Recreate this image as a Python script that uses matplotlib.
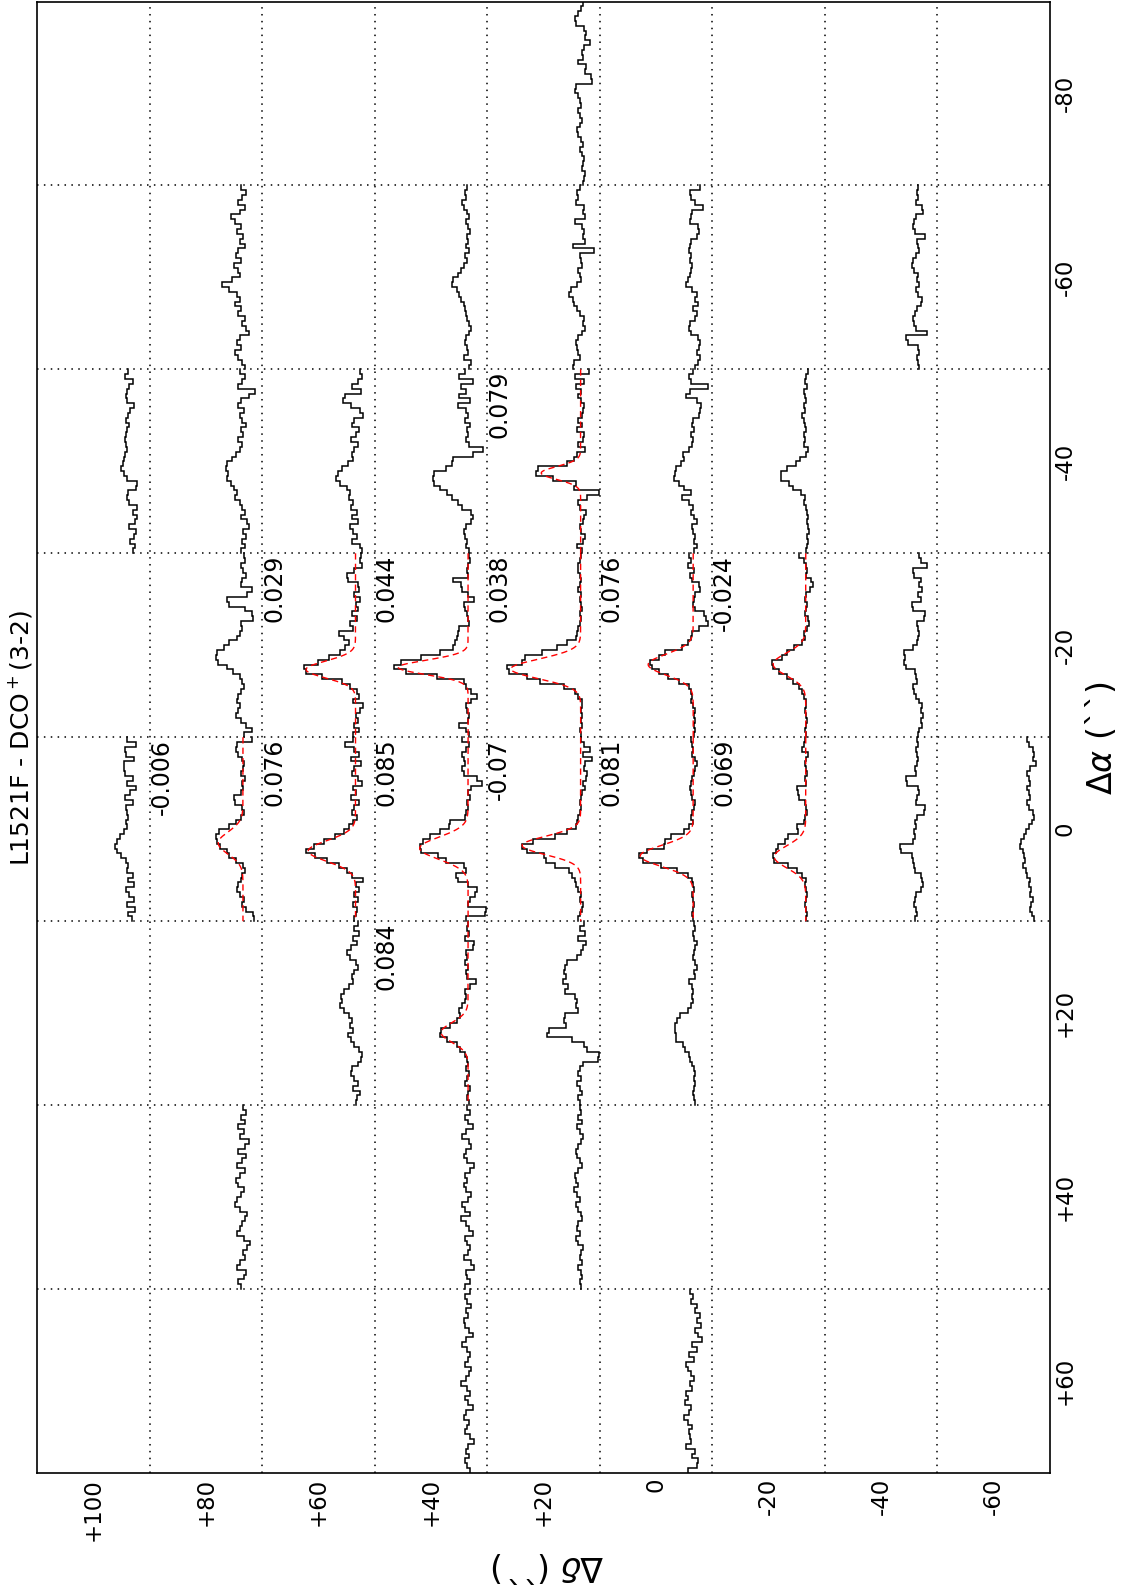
import numpy as np
import matplotlib
matplotlib.use("Agg")
import matplotlib.pyplot as plt

# ---------------- axes / grid description ----------------
dra_ticks = [-80, -60, -40, -20, 0, 20, 40, 60]
dra_ticklabels = ['-80', '-60', '-40', '-20', '0', '+20', '+40', '+60']
ddec_ticks = [100, 80, 60, 40, 20, 0, -20, -40, -60]
ddec_ticklabels = ['+100', '+80', '+60', '+40', '+20', '0', '-20', '-40', '-60']
grid_dra = [-70, -50, -30, -10, 10, 30, 50]
grid_ddec = [90, 70, 50, 30, 10, -10, -30, -50]

# velocity channels (km/s); each list below runs from highest to lowest velocity
v_hi, v_lo = 10.0, 4.0
n_chan = 38

# ---------------- spectra (Tmb in 0.01 K) ----------------
sp_p100_m40 = [2, 5, -2, 1, 3, 4, 3, -3, 0, 2, 4, 1, 3, 4, 5, 4, 3, 5, 6, 7, 8, 6, 3, -6, -5, 2, 3, 1, -6, -2, -6, -4, 1, -5, -3, 0, -4, -2]
sp_p100_0 = [3, -5, 5, 4, -3, 6, 6, 5, -2, 3, -5, 0, 5, -2, 4, 3, 2, 4, 3, 6, 9, 12, 14, 12, 8, 4, 2, 3, -2, 2, -3, 4, 1, -3, 3, -4, 2, -1]
sp_p80_m60 = [2, -3, 1, 4, -2, 3, 11, 7, 2, 5, 0, 3, -2, 4, 6, 2, 8, 4, 3, 10, 19, 12, 5, 3, 7, 2, 4, -2, 1, -3, -5, 3, 5, 2, 7, 4, 1, -2]
sp_p80_m40 = [3, -2, 1, 4, -11, -5, 2, 4, -1, 3, 1, -3, 2, 0, 4, 1, 3, 6, 10, 14, 15, 13, 14, 11, 8, 5, 7, 3, 1, -2, 2, -4, -5, 0, -3, 1, -2, 2]
sp_p80_m20 = [-1, -2, 2, 0, -3, 1, 2, -8, -4, 14, 12, -2, -8, -9, 2, 1, 3, 5, 12, 17, 23, 24, 22, 14, 9, 3, 1, -1, 2, 4, 5, 3, 4, 6, 2, -3, -8, -1]
sp_p80_0 = [-8, 5, 6, 4, 1, -1, 0, 2, -2, 1, 0, 2, 8, 7, 1, -1, 2, 6, 12, 21, 24, 23, 20, 14, 12, 6, 0, -2, 1, 2, 4, 5, 3, -1, 1, -3, -9, -10]
sp_p80_p40 = [0, -3, 2, -2, 4, -1, 3, -5, -2, 4, -3, 1, 5, -2, 3, 6, 4, -1, 2, 5, 7, 3, -4, -2, 1, 3, 5, -1, -6, -4, 0, -2, 3, 5, -3, -1, 4, 2]
sp_p60_m40 = [-4, -6, -2, 3, -5, 9, 11, 4, -4, -7, 1, 3, -3, 0, 4, -2, 1, 3, 2, 7, 12, 16, 17, 14, 8, 5, 6, 2, 4, -1, 3, -2, 5, 2, -1, 3, -4, -6]
sp_p60_m20 = [-5, -4, -6, 1, 8, 7, -2, -3, 1, -4, 0, -2, 3, -1, 5, 2, 15, 10, 6, 9, 14, 24, 33, 46, 44, 30, 12, 5, -1, -3, 2, -7, -4, 0, -2, 1, -3, 2]
sp_p60_0 = [2, 9, 1, -3, 4, -5, 1, 3, -2, -6, 2, 0, 4, -3, 1, 3, -1, 2, 6, 10, 18, 28, 37, 44, 36, 25, 15, 8, 3, -7, 0, -3, 1, -2, 2, -1, 0, 1]
sp_p60_p20 = [-2, 1, -3, 2, -1, 4, 8, 5, 0, -2, 1, 3, 2, 6, 10, 13, 12, 14, 10, 6, 3, 5, 2, 7, 4, 1, -3, -6, -5, -2, 3, 4, 1, -2, 2, -4, -1, 0]
sp_p40_m60 = [1, 3, 2, 5, 4, 1, -1, 2, 0, -2, 1, 0, 2, -1, 3, 1, 4, 6, 9, 13, 14, 10, 8, 6, 4, 3, 2, 1, -1, -3, -1, 2, 3, 1, 0, 4, -3, -1]
sp_p40_m40 = [3, 8, -4, 6, 2, 8, -2, 9, 2, 0, 3, -2, 1, 0, 2, -1, -13, -4, 13, 14, 20, 30, 31, 30, 25, 19, 14, 9, 5, -3, -4, -3, 2, 4, 3, 1, 2, -1]
sp_p40_m20 = [-1, -2, 0, 1, 0, 13, 6, 5, 0, -5, 4, 3, 1, 0, -1, 8, 9, 10, 12, 13, 25, 42, 60, 66, 55, 28, 4, 2, -3, -8, -3, 2, 1, -1, 0, 8, 2, -1]
sp_p40_0 = [5, -1, 2, 5, 4, 3, 5, 4, -8, -12, -3, 0, -2, 1, 0, 2, 3, 16, 17, 25, 34, 40, 43, 42, 27, 20, 4, 2, 11, 9, 0, -8, -6, -2, 0, -16, -15, 2]
sp_p40_p20 = [0, 1, -1, 3, -5, -4, 2, 1, 3, 0, 2, 1, -7, -2, 3, 2, 3, 5, 8, 7, 10, 16, 24, 25, 19, 10, 7, 3, 1, 0, 2, -1, 1, 3, -2, 0, 1, -1]
sp_p40_p40 = [1, -2, 3, 0, -4, 2, 5, -1, -3, 2, 4, 1, -5, -2, 3, 1, 4, 2, -3, 0, 5, 3, -2, 6, 2, -1, -4, 3, 1, -2, 0, 4, -3, -5, 2, 1, -2, 3]
sp_p40_p60 = [-2, 3, 1, -3, 2, 0, 4, 3, -1, -4, 2, 5, 1, -2, 0, 3, -3, -1, 2, 6, 1, -2, 3, 0, -4, 2, 4, -1, 1, 3, -2, -5, 0, 2, -1, 3, 1, -2]
sp_p20_m80 = [-2, 0, 2, 5, 4, -3, -5, -4, -8, -3, -1, -2, 2, -5, -4, -9, -10, 4, 5, 2, 1, 0, 2, 1, -1, 1, 3, 2, 0, -2, 1, -1, -3, -2, -1, -4, -3, -2]
sp_p20_m60 = [1, 3, 2, 4, -3, -2, -4, 5, -1, -3, -2, -4, 7, -12, 1, 0, -1, 2, 1, 0, 3, 9, 10, 7, 6, 3, 1, -3, -2, -4, -1, 2, 4, 3, 2, 1, 6, 7]
sp_p20_m40 = [-7, 5, -3, 4, 0, 2, 0, -3, -2, -1, 2, -1, 3, -3, -2, 2, -4, 3, 6, 12, 38, 40, 25, 4, 6, -16, -6, 2, 1, -5, -3, -2, 1, 0, -4, -2, 3, -1]
sp_p20_m20 = [0, 1, 2, 2, 1, 0, 1, 2, 0, 1, 0, -1, 1, 0, 1, 2, 3, 4, 12, 21, 34, 49, 52, 65, 64, 48, 36, 15, 5, 2, -1, -1, 0, -1, 0, -1, 1, 0]
sp_p20_0 = [0, -3, -8, -2, -10, -4, -3, -6, -5, -2, -4, -1, 0, 1, 0, 1, 2, 3, 4, 12, 23, 42, 52, 48, 33, 31, 23, 10, 8, 5, 4, 2, 0, 1, -2, -1, 1, 2]
sp_p20_p20 = [-3, 1, -4, 2, -5, -2, 0, 3, 12, 14, 15, 13, 16, 11, 14, 5, 3, 4, 2, 14, 15, 13, 28, 30, 8, -3, -6, -16, -15, -2, 1, 2, 0, 3, 1, -1, 2, 1]
sp_p20_p40 = [1, 0, 2, -1, 3, 1, -2, 0, 2, 4, 3, 1, -1, 2, 5, 4, 2, 6, 3, 1, 4, 2, 0, -1, 2, 3, 1, 4, 2, -2, 0, 1, -1, 2, 0, -1, 1, 0]
sp_0_m60 = [-6, 3, 2, -2, -9, 1, 2, 3, -4, -5, -3, 2, 3, 4, 2, 3, 1, 2, 3, 5, 6, 1, -3, -2, -4, 0, -3, -2, 3, 4, 2, -4, -6, -5, -3, -6, -4, -2]
sp_0_m40 = [0, 4, 2, -13, 3, 6, -3, -7, -6, -5, 0, 1, -1, 2, 0, 1, 4, 9, 8, 11, 15, 16, 17, 13, 8, 2, 10, 4, 0, 2, -1, -3, 1, 0, -2, -1, -3, -1]
sp_0_m20 = [4, 2, 5, -1, 3, 1, -5, -6, -2, -1, 0, -2, -10, -11, -13, -5, 1, 2, 5, 10, 25, 30, 38, 37, 30, 22, 13, 4, 2, 1, 2, 0, -2, -1, -2, -1, -2, -1]
sp_0_0 = [2, 1, 0, 1, -2, -3, -2, -1, 1, 2, 3, 2, 1, -2, -1, 1, 2, 0, 4, 8, 20, 25, 26, 41, 48, 45, 29, 14, 5, 1, 0, -1, 1, 0, -1, 0, 1, 0]
sp_0_p20 = [-1, -2, 0, -1, -3, -2, -1, 0, -2, -3, -1, -2, 4, 1, 0, 1, 0, 2, 5, 12, 14, 16, 16, 15, 15, 9, 7, 4, 3, 1, -1, -2, -1, -2, -1, 0, -1, -2]
sp_0_p60 = [3, 0, 2, -3, -2, -6, -3, -7, -2, -4, -8, 1, -3, 4, -1, 6, 5, 2, -1, 3, 1, 6, 5, 7, 2, 4, 8, 5, 1, 4, 3, 2, 6, -2, 1, -4, -3, 5]
sp_m20_m40 = [-2, 0, 1, -1, 2, 1, 0, 2, 1, 3, 2, 1, 0, 2, 1, 2, -2, 0, 5, 9, 17, 22, 22, 15, 11, 4, 1, 2, 0, -1, -2, -1, -2, -3, -1, -2, -1, 0]
sp_m20_m20 = [6, 2, 0, -1, 0, -5, -6, -4, 0, 1, -1, 0, 1, -2, -3, -1, 2, 1, 3, 10, 17, 21, 30, 29, 24, 17, 11, 6, 3, 2, 0, 0, 1, 0, -1, 0, 1, 0]
sp_m20_0 = [1, 2, 3, -2, 0, 1, 0, -1, 1, 0, 8, 7, 6, 1, 0, -1, 1, 2, 8, 7, 16, 18, 25, 26, 29, 28, 16, 8, 3, 0, 1, 0, -1, 0, 1, 0, -1, 0]
sp_m40_m60 = [0, 1, 0, 2, -3, -4, 2, 4, 5, 3, -6, 1, 0, -1, 2, 5, 6, 4, 0, 1, -1, 2, 0, -3, -2, 1, 3, 5, 4, 2, -8, 11, 9, 0, -1, 1, 0, -1]
sp_m40_m20 = [-1, -2, -8, 5, 4, -2, -1, -3, 0, -2, 6, 5, -6, -5, 1, 0, -1, 0, 1, 5, 13, 12, 13, 11, 3, 2, 1, 5, 4, 2, -1, -3, -2, -4, -2, -3, -1, 0]
sp_m40_0 = [1, 0, 2, 1, 0, 1, 3, 2, 11, 10, 0, -1, 1, 2, -6, -5, 1, 3, 2, 4, 3, 5, 16, 15, 6, 5, 4, 3, -2, -3, -4, -2, 2, 3, 4, 2, 1, 3]
sp_m60_0 = [3, 2, -2, -3, -2, -5, 1, 3, 2, 1, 3, 2, 1, 3, 2, -2, -3, -1, 2, 4, 6, 9, 10, 7, 6, 5, 7, 4, 3, 1, 2, 0, 1, -2, 0, 1, -1, -3]

# (delta-alpha, delta-delta, spectrum)
spectra = [
    (-40, 100, sp_p100_m40), (0, 100, sp_p100_0),
    (-60, 80, sp_p80_m60), (-40, 80, sp_p80_m40), (-20, 80, sp_p80_m20), (0, 80, sp_p80_0), (40, 80, sp_p80_p40),
    (-40, 60, sp_p60_m40), (-20, 60, sp_p60_m20), (0, 60, sp_p60_0), (20, 60, sp_p60_p20),
    (-60, 40, sp_p40_m60), (-40, 40, sp_p40_m40), (-20, 40, sp_p40_m20), (0, 40, sp_p40_0),
    (20, 40, sp_p40_p20), (40, 40, sp_p40_p40), (60, 40, sp_p40_p60),
    (-80, 20, sp_p20_m80), (-60, 20, sp_p20_m60), (-40, 20, sp_p20_m40), (-20, 20, sp_p20_m20),
    (0, 20, sp_p20_0), (20, 20, sp_p20_p20), (40, 20, sp_p20_p40),
    (-60, 0, sp_0_m60), (-40, 0, sp_0_m40), (-20, 0, sp_0_m20), (0, 0, sp_0_0), (20, 0, sp_0_p20), (60, 0, sp_0_p60),
    (-40, -20, sp_m20_m40), (-20, -20, sp_m20_m20), (0, -20, sp_m20_0),
    (-60, -40, sp_m40_m60), (-20, -40, sp_m40_m20), (0, -40, sp_m40_0),
    (0, -60, sp_m60_0),
]

# ---------------- Gaussian fits ----------------
fit_dra = [0, -20, 0, -20, 0, 20, -40, -20, 0, -20, 0, -20, 0]
fit_ddec = [80, 60, 60, 40, 40, 40, 20, 20, 20, 0, 0, -20, -20]
fit_amp = [0.22, 0.44, 0.42, 0.62, 0.43, 0.24, 0.35, 0.62, 0.52, 0.40, 0.47, 0.29, 0.28]   # K
fit_v0 = [6.55, 6.21, 6.29, 6.28, 6.38, 6.37, 6.62, 6.23, 6.47, 6.37, 6.13, 6.38, 6.10]   # km/s
fit_fwhm = [0.85, 0.65, 0.80, 0.55, 0.85, 0.75, 0.50, 0.75, 0.70, 0.80, 0.80, 0.85, 0.85]  # km/s
fit_label = ['-0.006', '0.029', '0.076', '0.044', '0.085', '0.084', '0.079',
             '0.038', '-0.07', '0.076', '0.081', '-0.024', '0.069']

# ---------------- mapping of spectra into the map cells ----------------
cell_half = 10.0    # arcsec
t_scale = 20.0      # arcsec per K
t_offset = -6.6     # baseline position inside the cell (arcsec)


def v_to_dra(v, dra_c):
    return dra_c - cell_half + (v_hi - v) / (v_hi - v_lo) * 2 * cell_half


def t_to_ddec(t, ddec_c):
    return ddec_c + t_offset + t_scale * np.asarray(t)


fig = plt.figure(figsize=(11.22, 15.95), dpi=100)
ax = fig.add_axes([37 / 1122, 1 - 1473 / 1595, (1050 - 37) / 1122, (1473 - 1.5) / 1595])

ax.set_xlim(110, -70)
ax.set_ylim(70, -90)

dot_style = (0, (1.0, 3.5))
for g in grid_ddec:
    ax.axvline(g, color='black', ls=dot_style, lw=1.1, zorder=1)
for g in grid_dra:
    ax.axhline(g, color='black', ls=dot_style, lw=1.1, zorder=1)

v_edges = np.linspace(v_hi, v_lo, n_chan + 1)
for dra_c, ddec_c, vals in spectra:
    t = np.asarray(vals) * 0.01
    xs = t_to_ddec(np.repeat(t, 2), ddec_c)
    ys = v_to_dra(np.column_stack([v_edges[:-1], v_edges[1:]]).ravel(), dra_c)
    ax.plot(xs, ys, color='black', lw=1.1, zorder=3, solid_joinstyle='miter')

v_fine = np.linspace(v_hi, v_lo, 300)
for dra_c, ddec_c, a, v0, w, lab in zip(fit_dra, fit_ddec, fit_amp, fit_v0, fit_fwhm, fit_label):
    tg = a * np.exp(-4 * np.log(2) * (v_fine - v0) ** 2 / w ** 2)
    ax.plot(t_to_ddec(tg, ddec_c), v_to_dra(v_fine, dra_c), color='red', lw=1.0,
            dashes=(4.5, 3), zorder=4)
    ax.text(ddec_c + cell_half, dra_c - cell_half + 0.15, lab, rotation=90,
            ha='left', va='top', fontsize=17, zorder=5)

ax.set_xticks(ddec_ticks)
ax.set_xticklabels(ddec_ticklabels, rotation=90, ha='center', va='top', fontsize=16.5)
ax.yaxis.tick_right()
ax.set_yticks(dra_ticks)
ax.set_yticklabels(dra_ticklabels, rotation=90, ha='left', va='center', fontsize=16.5)
ax.tick_params(axis='x', length=0, pad=3.5)
ax.tick_params(axis='y', length=0, pad=2.5)
for s in ax.spines.values():
    s.set_linewidth(1.2)

fig.text(19.6 / 1122, 1 - 738 / 1595, 'L1521F - DCO$^+$(3-2)', rotation=90,
         ha='center', va='center', fontsize=18)
fig.text(1101 / 1122, 1 - 738 / 1595, r'$\Delta\alpha$ (``)', rotation=90,
         ha='center', va='center', fontsize=24)
fig.text(548 / 1122, 1 - 1567 / 1595, r'$\Delta\delta$ (``)', rotation=180,
         ha='center', va='center', fontsize=24)

fig.savefig('out.png', dpi=100)
